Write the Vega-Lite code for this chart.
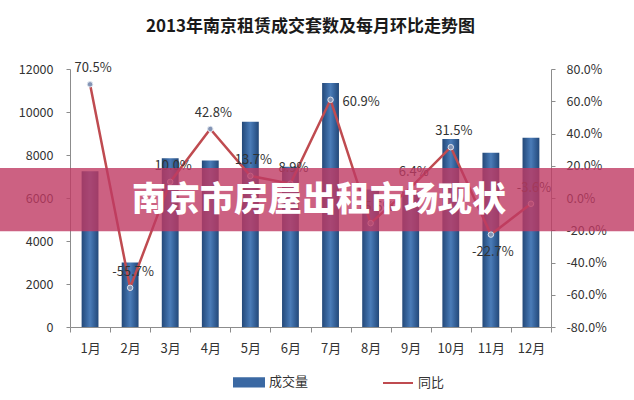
{
  "$schema": "https://vega.github.io/schema/vega-lite/v6.json",
  "width": 481,
  "height": 258,
  "autosize": {"type": "none"},
  "padding": {"left": 70, "top": 69, "right": 83, "bottom": 73},
  "background": "white",
  "config": {"font": "Noto Sans CJK SC", "view": {"stroke": null}},
  "title": {
    "text": "2013年南京租赁成交套数及每月环比走势图",
    "fontSize": 17,
    "fontWeight": "bold",
    "color": "#1a1a1a",
    "anchor": "middle",
    "offset": 26
  },
  "data": {
    "values": [
      {"month": "1月", "volume": 7250, "pct": 70.5},
      {"month": "2月", "volume": 3000, "pct": -55.7},
      {"month": "3月", "volume": 7850, "pct": 10.0},
      {"month": "4月", "volume": 7750, "pct": 42.8},
      {"month": "5月", "volume": 9550, "pct": 13.7},
      {"month": "6月", "volume": 7450, "pct": 8.9},
      {"month": "7月", "volume": 11350, "pct": 60.9},
      {"month": "8月", "volume": 6400, "pct": -15.6},
      {"month": "9月", "volume": 6300, "pct": 6.4},
      {"month": "10月", "volume": 8750, "pct": 31.5},
      {"month": "11月", "volume": 8100, "pct": -22.7},
      {"month": "12月", "volume": 8800, "pct": -3.6}
    ]
  },
  "layer": [
    {
      "mark": {
        "type": "bar",
        "width": {"band": 0.42},
        "fill": {
          "gradient": "linear",
          "x1": 0, "x2": 1, "y1": 0, "y2": 0,
          "stops": [
            {"offset": 0, "color": "#234878"},
            {"offset": 0.35, "color": "#3d6ca6"},
            {"offset": 0.5, "color": "#4b7cb7"},
            {"offset": 0.65, "color": "#3d6ca6"},
            {"offset": 1, "color": "#234878"}
          ]
        }
      },
      "encoding": {
        "x": {
          "field": "month",
          "type": "ordinal",
          "sort": null,
          "scale": {"paddingInner": 0, "paddingOuter": 0},
          "axis": {
            "title": null,
            "labelAngle": 0,
            "tickBand": "extent",
            "tickSize": 5,
            "labelPadding": 10,
            "labelFontSize": 13,
            "labelColor": "#333333",
            "domainColor": "#8c8c8c",
            "tickColor": "#8c8c8c"
          }
        },
        "y": {
          "field": "volume",
          "type": "quantitative",
          "scale": {"domain": [0, 12000], "nice": false},
          "axis": {
            "title": null,
            "orient": "left",
            "values": [0, 2000, 4000, 6000, 8000, 10000, 12000],
            "format": "d",
            "grid": false,
            "tickSize": 4,
            "labelPadding": 13,
            "labelFontSize": 12.5,
            "labelColor": "#333333",
            "domainColor": "#8c8c8c",
            "tickColor": "#8c8c8c"
          }
        }
      }
    },
    {
      "encoding": {
        "x": {"field": "month", "type": "ordinal", "sort": null},
        "y": {
          "field": "pct",
          "type": "quantitative",
          "scale": {"domain": [-80, 80], "nice": false},
          "axis": {
            "title": null,
            "orient": "right",
            "values": [-80, -60, -40, -20, 0, 20, 40, 60, 80],
            "labelExpr": "(datum.value < 0 ? '-' : '') + format(abs(datum.value), '.1f') + '%'",
            "grid": false,
            "tickSize": 4,
            "labelPadding": 11,
            "labelFontSize": 12.5,
            "labelColor": "#333333",
            "domainColor": "#8c8c8c",
            "tickColor": "#8c8c8c"
          }
        }
      },
      "layer": [
        {
          "mark": {"type": "line", "strokeWidth": 2.5},
          "encoding": {
            "color": {
              "datum": "同比",
              "scale": {"domain": ["成交量", "同比"], "range": ["#3b69a3", "#bf4b50"]},
              "legend": {
                "title": null,
                "orient": "none",
                "legendX": 163,
                "legendY": 297,
                "direction": "horizontal",
                "symbolSize": 900,
                "labelFontSize": 13,
                "labelColor": "#333333",
                "columnPadding": 70,
                "encode": {
                  "symbols": {
                    "update": {
                      "shape": {"signal": "datum.value === '成交量' ? 'M-1,-0.28H1V0.28H-1Z' : 'M-1,0H1'"},
                      "fill": {"signal": "datum.value === '成交量' ? '#3b69a3' : 'transparent'"},
                      "stroke": {"signal": "datum.value === '成交量' ? '#2a4f80' : '#a8707a'"},
                      "strokeWidth": {"value": 2}
                    }
                  }
                }
              }
            }
          }
        },
        {
          "mark": {"type": "point", "shape": "circle", "filled": true, "size": 30, "fill": "#8394b4", "stroke": "#dfe5ef", "strokeWidth": 1, "opacity": 1}
        },
        {
          "transform": [
            {"filter": "datum.month !== '7月' && datum.month !== '11月'"},
            {"calculate": "(datum.pct < 0 ? '-' : '') + format(abs(datum.pct), '.1f') + '%'", "as": "lbl"}
          ],
          "mark": {"type": "text", "dy": -16, "dx": 3, "fontSize": 13, "color": "#333333"},
          "encoding": {"text": {"field": "lbl", "type": "nominal"}}
        },
        {
          "transform": [
            {"filter": "datum.month === '7月'"},
            {"calculate": "(datum.pct < 0 ? '-' : '') + format(abs(datum.pct), '.1f') + '%'", "as": "lbl"}
          ],
          "mark": {"type": "text", "dx": 12, "dy": 2, "align": "left", "fontSize": 13, "color": "#333333"},
          "encoding": {"text": {"field": "lbl", "type": "nominal"}}
        },
        {
          "transform": [
            {"filter": "datum.month === '11月'"},
            {"calculate": "(datum.pct < 0 ? '-' : '') + format(abs(datum.pct), '.1f') + '%'", "as": "lbl"}
          ],
          "mark": {"type": "text", "dx": 2, "dy": 17, "fontSize": 13, "color": "#333333"},
          "encoding": {"text": {"field": "lbl", "type": "nominal"}}
        }
      ]
    },
    {
      "data": {"values": [{"banner": "南京市房屋出租市场现状"}]},
      "layer": [
        {
          "mark": {"type": "rect", "x": -70, "x2": 564, "fill": "#bf3a63", "opacity": 0.8},
          "encoding": {
            "y": {"datum": 18.6, "type": "quantitative", "scale": {"domain": [-80, 80], "nice": false}, "axis": null},
            "y2": {"datum": -20.6}
          }
        },
        {
          "mark": {"type": "text", "x": 249, "fontSize": 34, "fontWeight": 900, "color": "white", "align": "center", "baseline": "middle"},
          "encoding": {
            "y": {"datum": -1.6, "type": "quantitative", "scale": {"domain": [-80, 80], "nice": false}, "axis": null},
            "text": {"field": "banner", "type": "nominal"}
          }
        }
      ]
    }
  ],
  "resolve": {"scale": {"y": "independent"}}
}
